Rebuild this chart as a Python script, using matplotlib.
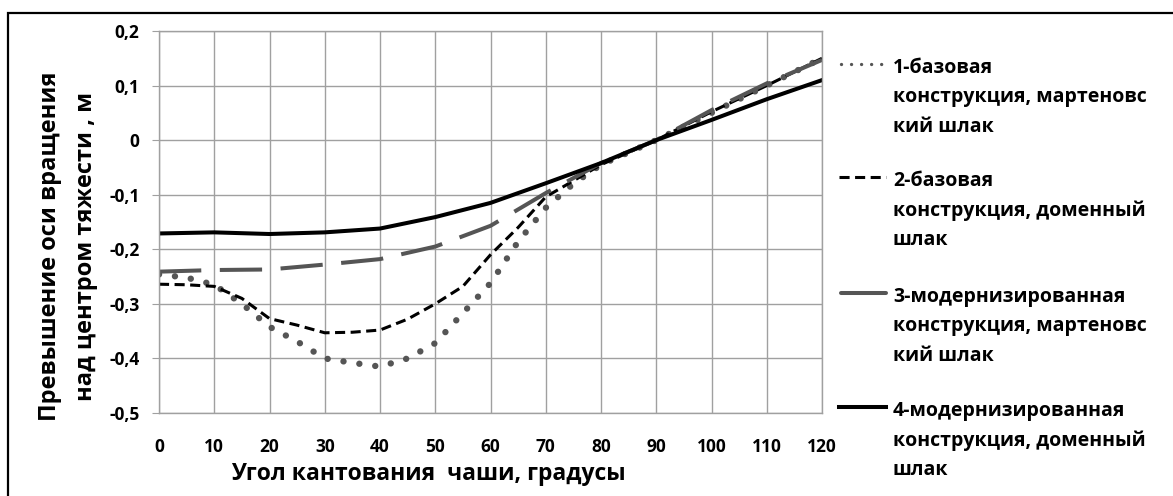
import matplotlib
matplotlib.use("Agg")
import matplotlib.pyplot as plt
from matplotlib.lines import Line2D
from matplotlib.patches import Rectangle

plt.rcParams['font.family'] = ['Open Sans', 'DejaVu Sans']
plt.rcParams['font.weight'] = 'bold'

# ---- data ----
x1 = [0, 5, 10, 15, 20, 25, 30, 35, 40, 45, 50, 55, 60, 65, 70, 75, 80, 90, 100, 110, 120]
y1 = [-0.246, -0.252, -0.265, -0.300, -0.342, -0.369, -0.400, -0.408, -0.415, -0.400, -0.372,
      -0.317, -0.262, -0.186, -0.124, -0.080, -0.045, 0.0, 0.050, 0.100, 0.150]

x2 = [0, 5, 10, 15, 20, 25, 30, 35, 40, 45, 50, 55, 60, 65, 70, 80, 90, 100, 110, 120]
y2 = [-0.264, -0.265, -0.268, -0.290, -0.327, -0.339, -0.353, -0.352, -0.348, -0.328, -0.300,
      -0.268, -0.210, -0.160, -0.104, -0.045, 0.0, 0.052, 0.100, 0.150]

x3 = [0, 10, 20, 30, 40, 50, 60, 70, 80, 90, 100, 110, 120]
y3 = [-0.241, -0.238, -0.237, -0.228, -0.218, -0.195, -0.157, -0.097, -0.042, 0.0, 0.055, 0.104, 0.147]

x4 = [0, 10, 20, 30, 40, 50, 60, 70, 80, 90, 100, 110, 120]
y4 = [-0.171, -0.169, -0.172, -0.169, -0.162, -0.141, -0.115, -0.079, -0.042, 0.0, 0.037, 0.075, 0.110]

labels = [
    "1-базовая\nконструкция, мартеновс\nкий шлак",
    "2-базовая\nконструкция, доменный\nшлак",
    "3-модернизированная\nконструкция, мартеновс\nкий шлак",
    "4-модернизированная\nконструкция, доменный\nшлак",
]
xticks = [0, 10, 20, 30, 40, 50, 60, 70, 80, 90, 100, 110, 120]
yticks = [-0.5, -0.4, -0.3, -0.2, -0.1, 0.0, 0.1, 0.2]
ytick_labels = ["-0,5", "-0,4", "-0,3", "-0,2", "-0,1", "0", "0,1", "0,2"]
xlabel = "Угол кантования  чаши, градусы"
ylabel = "Превышение оси вращения\nнад центром тяжести , м"

W, H = 1173, 496
fig = plt.figure(figsize=(W / 100, H / 100), dpi=100)
ax = fig.add_axes([159 / W, 1 - 413 / H, (822 - 159) / W, (413 - 31) / H])

styles = [
    dict(color="#555555", lw=4.6, linestyle=(0, (0.01, 2.5)), dash_capstyle="round"),
    dict(color="black", lw=2.2, linestyle=(0, (3.3, 1.8)), dash_capstyle="butt"),
    dict(color="#555555", lw=2.9, linestyle=(0, (10.5, 4.6)), dash_capstyle="butt"),
    dict(color="black", lw=2.9, linestyle="-"),
]
legend_styles = [
    dict(color="#555555", lw=2.4, linestyle=(0, (0.01, 3.0)), dash_capstyle="round"),
    dict(color="black", lw=2.2, linestyle=(0, (3.3, 1.8)), dash_capstyle="butt"),
    dict(color="#555555", lw=2.9, linestyle="-", solid_capstyle="round"),
    dict(color="black", lw=2.9, linestyle="-"),
]
series = [(x1, y1), (x2, y2), (x3, y3), (x4, y4)]
for (xs, ys), st in zip(series, styles):
    ax.plot(xs, ys, **st)

ax.set_xlim(0, 120)
ax.set_ylim(-0.5, 0.2)
ax.set_xticks(xticks)
ax.set_yticks(yticks)
ax.set_yticklabels(ytick_labels)
ax.grid(True, color="#a0a0a0", lw=1.0)
ax.set_axisbelow(True)
for s in ax.spines.values():
    s.set_color("#a0a0a0")
    s.set_linewidth(1.0)
ax.tick_params(axis="x", length=0, pad=18, labelsize=12.5)
ax.tick_params(axis="y", length=5, color="#a0a0a0", pad=9, labelsize=12.5)
for t in ax.get_xticklabels() + ax.get_yticklabels():
    t.set_fontweight("bold")

ax.set_xlabel(xlabel, fontsize=16.5, fontweight="bold")
ax.xaxis.set_label_coords((428 - 159) / (822 - 159), -(474 - 413) / (413 - 31), transform=ax.transAxes)
ax.xaxis.label.set_va("center")

fig.text(68 / W, 1 - 246 / H, ylabel, rotation=90, ha="center", va="center",
         fontsize=17, fontweight="bold", linespacing=1.65)

# legend (drawn manually to match layout)
entry_y = [64, 177, 293, 407]
legend_x0 = [841, 839, 841, 839]
for (lbl, st, ey, lx) in zip(labels, legend_styles, entry_y, legend_x0):
    fig.add_artist(Line2D([lx / W, 886 / W], [1 - ey / H, 1 - ey / H], transform=fig.transFigure, **st))
    fig.text(893 / W, 1 - (ey - 6) / H, lbl, ha="left", va="top", fontsize=14,
             fontweight="bold", linespacing=1.62)

# outer frame
fig.add_artist(Rectangle((8 / W, -0.1), 1.2, 1 - 13 / H + 0.1, transform=fig.transFigure,
                         fill=False, edgecolor="black", lw=1.6))

fig.savefig("out.png", dpi=100)
